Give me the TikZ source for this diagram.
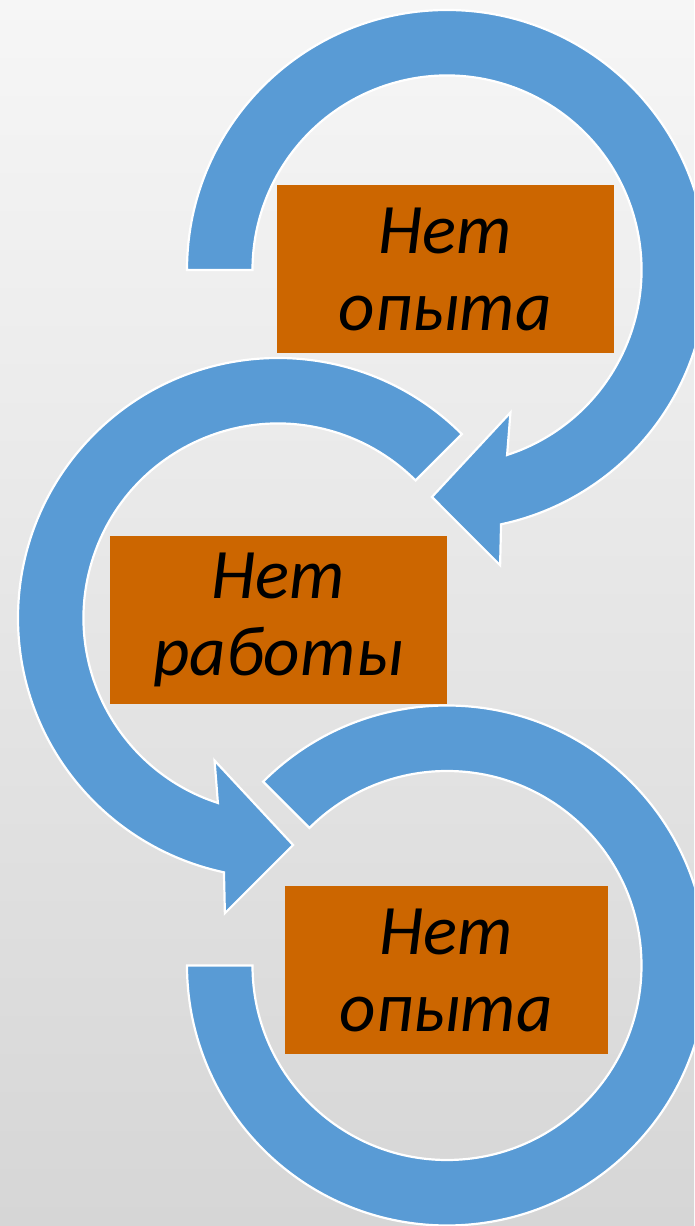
\documentclass[tikz,border=0pt]{standalone}
\usepackage{fontspec}
\setmainfont{Carlito}
\usepackage{tikz}

\definecolor{ringblue}{RGB}{89,155,213}
\definecolor{boxorange}{RGB}{204,102,0}

\tikzset{
  ringarrow/.style={fill=ringblue, draw=white, line width=2.2pt, line join=miter},
  textbox/.style={fill=boxorange, inner sep=0pt, minimum height=168, align=center,
    font=\fontsize{71}{77}\selectfont\itshape}
}

\begin{document}
\begin{tikzpicture}[x=1pt,y=1pt]

  % Background
  \shade[top color={rgb,255:red,246;green,246;blue,246}, bottom color={rgb,255:red,214;green,214;blue,214}] (0,0) rectangle (694,1226);
  \useasboundingbox (0,0) rectangle (694,1226);
  \clip (0,0) rectangle (694,1226);

  % Centres
  \coordinate (c1) at (447,956);
  \coordinate (c2) at (278,608);
  \coordinate (c3) at (447,260.5);

  % Rings
  \begin{scope}[shift={(c1)}]
    \draw[ringarrow] (180:260) arc[start angle=180, end angle=-78, radius=260]
      -- (-79.8:300) -- (-93.8:227.5) -- (-66:156) -- (-72:194.5)
      arc[start angle=-72, end angle=180, radius=194.5] -- cycle;
  \end{scope}
  \begin{scope}[shift={(c2)}]
    \draw[ringarrow] (45:260) arc[start angle=45, end angle=258, radius=260]
      -- (259.8:300) -- (273.8:227.5) -- (246:156) -- (252:194.5)
      arc[start angle=252, end angle=45, radius=194.5] -- cycle;
  \end{scope}
  \begin{scope}[shift={(c3)}]
    \draw[ringarrow] (135:260) arc[start angle=135, end angle=-180, radius=260]
      -- (180:194.5) arc[start angle=-180, end angle=135, radius=194.5] -- cycle;
  \end{scope}

  % Boxes
  \node[textbox, minimum width=337] (top)    at (445.5,957) {Нет\\опыта};
  \node[textbox, minimum width=337] (middle) at (278.5,606) {Нет\\работы};
  \node[textbox, minimum width=323] (bottom) at (446.5,256) {Нет\\опыта};

\end{tikzpicture}
\end{document}
